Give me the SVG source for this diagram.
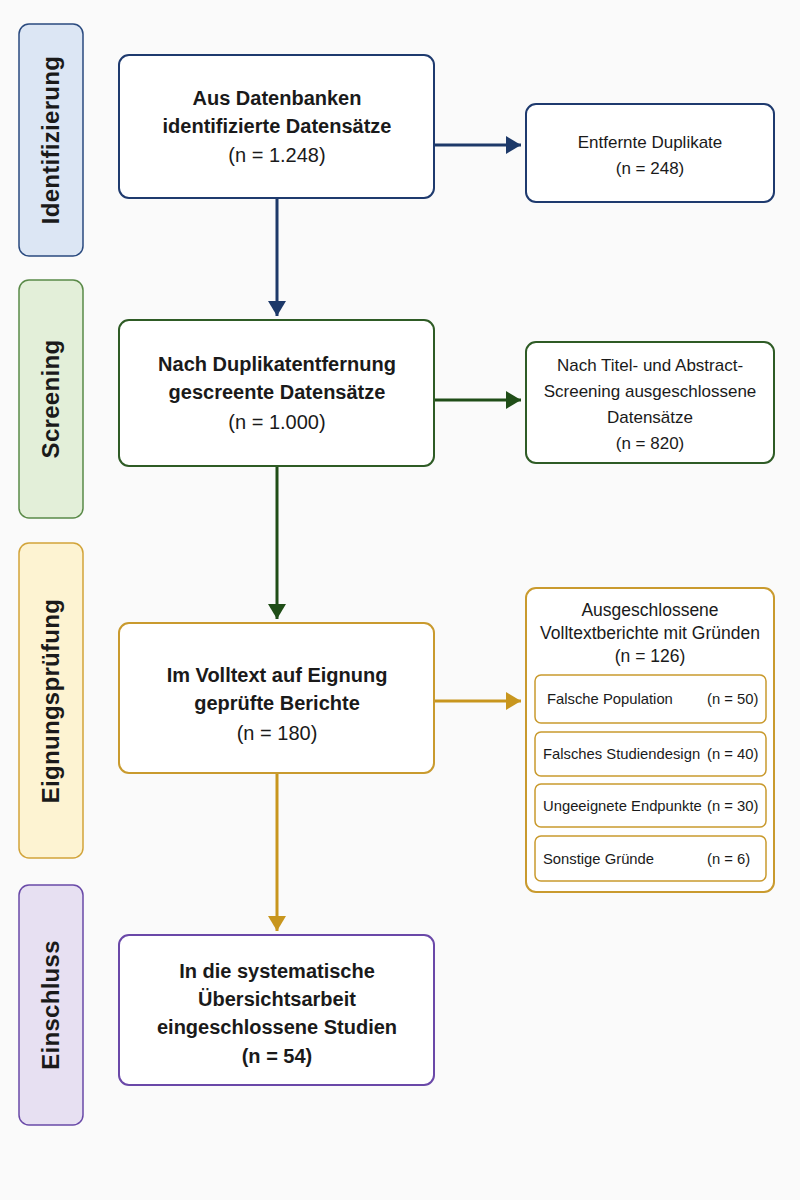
<svg xmlns="http://www.w3.org/2000/svg" width="800" height="1200" viewBox="0 0 800 1200">
<defs>
<style>
.t{font-family:"Liberation Sans",Arial,sans-serif;fill:#1a1a1a}
.main{font-size:20px;font-weight:bold;text-anchor:middle}
.mainn{font-size:20px;text-anchor:middle}
.side{font-size:24px;font-weight:bold;text-anchor:middle;letter-spacing:0.3px}
.ex{font-size:17px;text-anchor:middle}
.ex18{font-size:17.5px;text-anchor:middle}
.sub{font-size:14.8px}
.box{fill:#ffffff;stroke-width:2}
.sb{fill:#ffffff;stroke:#c99a2e;stroke-width:1.5}
.arr{fill:none;stroke-width:3}
</style>
<marker id="mNavy" markerWidth="6" markerHeight="6" refX="5" refY="3" orient="auto" markerUnits="strokeWidth"><path d="M0,0 L5,3 L0,6 Z" fill="#1d3969"/></marker>
<marker id="mGreen" markerWidth="6" markerHeight="6" refX="5" refY="3" orient="auto" markerUnits="strokeWidth"><path d="M0,0 L5,3 L0,6 Z" fill="#1f4d17"/></marker>
<marker id="mGold" markerWidth="6" markerHeight="6" refX="5" refY="3" orient="auto" markerUnits="strokeWidth"><path d="M0,0 L5,3 L0,6 Z" fill="#c8961e"/></marker>
</defs>
<rect x="0" y="0" width="800" height="1200" fill="#fafafa"/>

<g id="phase-identifizierung">
<rect x="19" y="24" width="64" height="232" rx="10" fill="#dce6f4" stroke="#2a4a7f" stroke-width="1.5"/>
<text class="t side" transform="translate(59,140) rotate(-90)">Identifizierung</text>
</g>
<g id="phase-screening">
<rect x="19" y="280" width="64" height="238" rx="10" fill="#e3efd9" stroke="#5a8a48" stroke-width="1.5"/>
<text class="t side" transform="translate(59,399) rotate(-90)">Screening</text>
</g>
<g id="phase-eignung">
<rect x="19" y="543" width="64" height="315" rx="10" fill="#fdf3d2" stroke="#d2a43a" stroke-width="1.5"/>
<text class="t side" transform="translate(59,701) rotate(-90)">Eignungsprüfung</text>
</g>
<g id="phase-einschluss">
<rect x="19" y="885" width="64" height="240" rx="10" fill="#e7e0f2" stroke="#6a4aa8" stroke-width="1.5"/>
<text class="t side" transform="translate(59,1005) rotate(-90)">Einschluss</text>
</g>

<g id="connectors">
<line class="arr" x1="434" y1="145" x2="521" y2="145" stroke="#1d3969" marker-end="url(#mNavy)"/>
<line class="arr" x1="277" y1="198" x2="277" y2="316" stroke="#1d3969" marker-end="url(#mNavy)"/>
<line class="arr" x1="434" y1="400" x2="521" y2="400" stroke="#1f4d17" marker-end="url(#mGreen)"/>
<line class="arr" x1="277" y1="466" x2="277" y2="619" stroke="#1f4d17" marker-end="url(#mGreen)"/>
<line class="arr" x1="434" y1="701" x2="521" y2="701" stroke="#c8961e" marker-end="url(#mGold)"/>
<line class="arr" x1="277" y1="773" x2="277" y2="931" stroke="#c8961e" marker-end="url(#mGold)"/>
</g>

<g id="n-identified">
<rect class="box" x="119" y="55" width="315" height="143" rx="10" stroke="#1e3a6e"/>
<text class="t main" x="277" y="105">Aus Datenbanken</text>
<text class="t main" x="277" y="133">identifizierte Datensätze</text>
<text class="t mainn" x="277" y="162">(n = 1.248)</text>
</g>
<g id="n-duplicates">
<rect class="box" x="526" y="104" width="248" height="98" rx="10" stroke="#1e3a6e"/>
<text class="t ex" x="650" y="148">Entfernte Duplikate</text>
<text class="t ex" x="650" y="174">(n = 248)</text>
</g>

<g id="n-screened">
<rect class="box" x="119" y="320" width="315" height="146" rx="10" stroke="#2e5b25"/>
<text class="t main" x="277" y="371">Nach Duplikatentfernung</text>
<text class="t main" x="277" y="399">gescreente Datensätze</text>
<text class="t mainn" x="277" y="429">(n = 1.000)</text>
</g>
<g id="n-screen-excluded">
<rect class="box" x="526" y="342" width="248" height="121" rx="10" stroke="#2e5b25"/>
<text class="t ex" x="650" y="371">Nach Titel- und Abstract-</text>
<text class="t ex" x="650" y="397">Screening ausgeschlossene</text>
<text class="t ex" x="650" y="423">Datensätze</text>
<text class="t ex" x="650" y="449">(n = 820)</text>
</g>

<g id="n-fulltext">
<rect class="box" x="119" y="623" width="315" height="150" rx="10" stroke="#c99a2e"/>
<text class="t main" x="277" y="682">Im Volltext auf Eignung</text>
<text class="t main" x="277" y="710">geprüfte Berichte</text>
<text class="t mainn" x="277" y="740">(n = 180)</text>
</g>
<g id="n-fulltext-excluded">
<rect class="box" x="526" y="588" width="248" height="304" rx="10" stroke="#c99a2e"/>
<text class="t ex18" x="650" y="616">Ausgeschlossene</text>
<text class="t ex18" x="650" y="639">Volltextberichte mit Gründen</text>
<text class="t ex18" x="650" y="662">(n = 126)</text>
<rect class="sb" x="535" y="675" width="231" height="48" rx="6"/>
<text class="t sub" x="547" y="704">Falsche Population</text>
<text class="t sub" x="707" y="704">(n = 50)</text>
<rect class="sb" x="535" y="732" width="231" height="44" rx="6"/>
<text class="t sub" x="543" y="759">Falsches Studiendesign</text>
<text class="t sub" x="707" y="759">(n = 40)</text>
<rect class="sb" x="535" y="784" width="231" height="43" rx="6"/>
<text class="t sub" x="543" y="811">Ungeeignete Endpunkte</text>
<text class="t sub" x="707" y="811">(n = 30)</text>
<rect class="sb" x="535" y="836" width="231" height="45" rx="6"/>
<text class="t sub" x="543" y="864">Sonstige Gründe</text>
<text class="t sub" x="707" y="864">(n = 6)</text>
</g>

<g id="n-included">
<rect class="box" x="119" y="935" width="315" height="150" rx="10" stroke="#6a48a8"/>
<text class="t main" x="277" y="978">In die systematische</text>
<text class="t main" x="277" y="1006">Übersichtsarbeit</text>
<text class="t main" x="277" y="1034">eingeschlossene Studien</text>
<text class="t main" x="277" y="1063">(n = 54)</text>
</g>
</svg>
